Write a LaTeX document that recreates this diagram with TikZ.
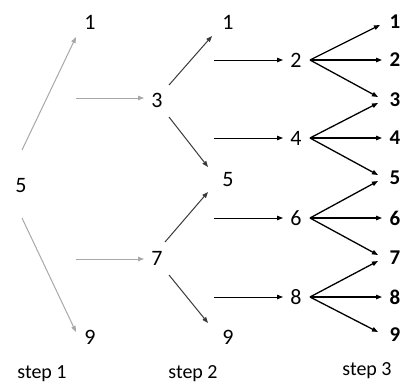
\documentclass[tikz,border=0pt]{standalone}
\usepackage{fontspec}
\setmainfont{Carlito}
\usetikzlibrary{arrows.meta,calc}
\definecolor{lightarr}{HTML}{A8A8A8}
\definecolor{darkarr}{HTML}{3A3A3A}
\begin{document}
\begin{tikzpicture}[x=1pt,y=-1pt,
  num/.style={inner sep=0pt,font=\fontsize{22}{26}\selectfont},
  bnum/.style={inner sep=0pt,font=\fontsize{21}{25}\selectfont\bfseries},
  lbl/.style={inner sep=0pt,font=\fontsize{20}{24}\selectfont},
  garr/.style={draw=lightarr,line width=1pt,-{Triangle[length=6pt,width=4.5pt,fill=lightarr]}},
  darr/.style={draw=darkarr,line width=1pt,-{Triangle[length=6pt,width=4.5pt,fill=darkarr]}},
  barr/.style={draw=black,line width=1.3pt,-{Triangle[length=6pt,width=4.5pt]}}]
\useasboundingbox (0,0) rectangle (403,383);
% step 1
\node[num] (s5) at (21,186) {5};
\node[num] (t1) at (90,22) {1};
\node[num] (t9) at (90,337) {9};
\node[num] (t3) at (157,100) {3};
\node[num] (t7) at (157,258) {7};
% step 2
\node[num] (u1) at (228,22) {1};
\node[num] (u5) at (228,180) {5};
\node[num] (u9) at (228,337) {9};
\node[num] (v2) at (296,60) {2};
\node[num] (v4) at (296,138) {4};
\node[num] (v6) at (296,218) {6};
\node[num] (v8) at (296,297) {8};
% step 3
\foreach \i/\y in {1/22,2/60,3/100,4/138,5/178,6/218,7/258,8/297,9/335}
  \node[bnum] (w\i) at (395,\y) {\i};
% labels
\node[lbl] (l1) at (42,374) {step 1};
\node[lbl] (l2) at (193,374) {step 2};
\node[lbl] (l3) at (367,371) {step 3};
% free ends
\coordinate (h3) at (76,98);
\coordinate (h7) at (76,259);
\coordinate (k2) at (214,60);
\coordinate (k4) at (214,138);
\coordinate (k6) at (214,218);
\coordinate (k8) at (214,297);
% gray arrows
\draw[garr] ($(s5)+(1,-36)$) -- ($(t1)+(-14,15)$);
\draw[garr] ($(s5)+(1,32)$) -- ($(t9)+(-14,-5)$);
\draw[garr] (h3) -- ($(t3)+(-13,-2)$);
\draw[garr] (h7) -- ($(t7)+(-13,1)$);
% dark arrows
\draw[darr] ($(t3)+(12,-15)$) -- ($(u1)+(-16,14)$);
\draw[darr] ($(t3)+(12,17)$) -- ($(u5)+(-20,-13)$);
\draw[darr] ($(t7)+(8,-16)$) -- ($(u5)+(-20,12)$);
\draw[darr] ($(t7)+(12,17)$) -- ($(u9)+(-20,-14)$);
% black horizontals
\draw[barr,line width=1pt] (k2) -- ($(v2)+(-13,0)$);
\draw[barr,line width=1pt] (k4) -- ($(v4)+(-13,0)$);
\draw[barr,line width=1pt] (k6) -- ($(v6)+(-13,0)$);
\draw[barr,line width=1pt] (k8) -- ($(v8)+(-13,0)$);
% step 3 fans
\draw[barr] ($(v2)+(14,0)$) -- ($(w1)+(-15,3)$);
\draw[barr] ($(v2)+(14,0)$) -- ($(w2)+(-13,0)$);
\draw[barr] ($(v2)+(14,0)$) -- ($(w3)+(-17,-3)$);
\draw[barr] ($(v4)+(14,0)$) -- ($(w3)+(-17,3)$);
\draw[barr] ($(v4)+(14,0)$) -- ($(w4)+(-13,0)$);
\draw[barr] ($(v4)+(14,0)$) -- ($(w5)+(-17,-3)$);
\draw[barr] ($(v6)+(14,0)$) -- ($(w5)+(-17,3)$);
\draw[barr] ($(v6)+(14,0)$) -- ($(w6)+(-13,0)$);
\draw[barr] ($(v6)+(14,0)$) -- ($(w7)+(-17,-3)$);
\draw[barr] ($(v8)+(14,0)$) -- ($(w7)+(-17,3)$);
\draw[barr] ($(v8)+(14,0)$) -- ($(w8)+(-13,0)$);
\draw[barr] ($(v8)+(14,0)$) -- ($(w9)+(-17,-3)$);
\end{tikzpicture}
\end{document}
